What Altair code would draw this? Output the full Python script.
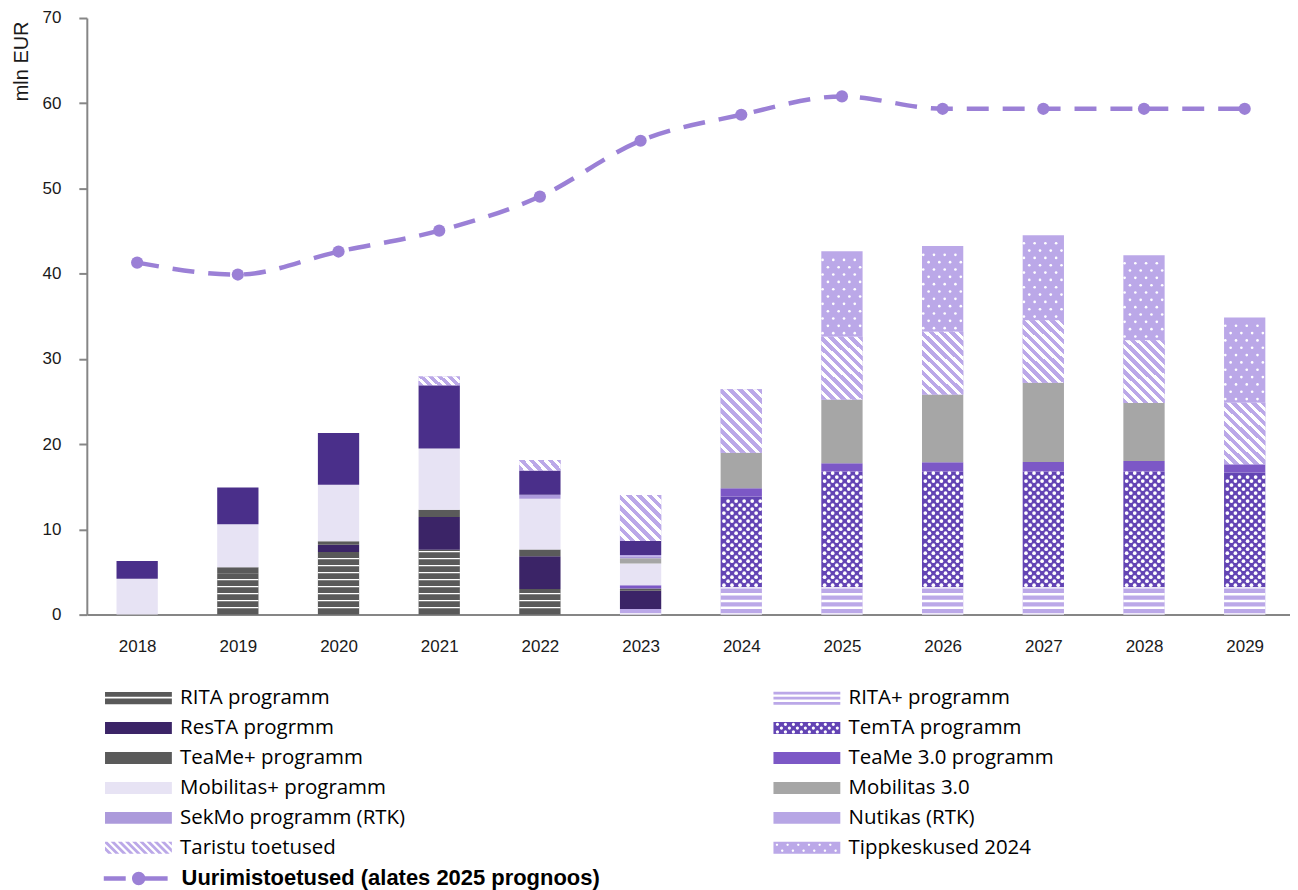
import altair as alt
import pandas as pd

# ---------------- data ----------------
years = [2018, 2019, 2020, 2021, 2022, 2023, 2024, 2025, 2026, 2027, 2028, 2029]

rita           = [0, 4.85, 7.35, 7.6, 3.0, 0, 0, 0, 0, 0, 0, 0]
rita_plus      = [0, 0, 0, 0, 0, 0.65, 3.2, 3.2, 3.2, 3.2, 3.2, 3.2]
resta          = [0, 0, 0.85, 3.85, 3.85, 2.15, 0, 0, 0, 0, 0, 0]
temta          = [0, 0, 0, 0, 0, 0, 10.65, 13.58, 13.58, 13.58, 13.58, 13.47]
teame_plus     = [0, 0.7, 0.4, 0.85, 0.8, 0.25, 0, 0, 0, 0, 0, 0]
teame3         = [0, 0, 0, 0, 0, 0.4, 0.97, 0.98, 1.1, 1.14, 1.25, 0.98]
mobilitas_plus = [4.2, 5.05, 6.65, 7.2, 5.95, 2.55, 0, 0, 0, 0, 0, 0]
mobilitas3     = [0, 0, 0, 0, 0, 0.6, 4.17, 7.49, 7.96, 9.28, 6.79, 0]
sekmo          = [0, 0, 0, 0, 0.45, 0.2, 0, 0, 0, 0, 0, 0]
nutikas        = [0, 0, 0, 0, 0, 0.2, 0, 0, 0, 0, 0, 0]
muu            = [2.1, 4.3, 6.05, 7.4, 2.85, 1.63, 0, 0, 0, 0, 0, 0]
taristu        = [0, 0, 0, 1.05, 1.25, 5.4, 7.46, 7.34, 7.34, 7.34, 7.38, 7.21]
tipp           = [0, 0, 0, 0, 0, 0, 0, 10.03, 10.07, 9.96, 9.95, 10.0]

series_names = [
    "RITA programm", "RITA+ programm", "ResTA progrmm", "TemTA programm",
    "TeaMe+ programm", "TeaMe 3.0 programm", "Mobilitas+ programm", "Mobilitas 3.0",
    "SekMo programm (RTK)", "Nutikas (RTK)", "Muu", "Taristu toetused", "Tippkeskused 2024",
]
series_values = [rita, rita_plus, resta, temta, teame_plus, teame3, mobilitas_plus,
                 mobilitas3, sekmo, nutikas, muu, taristu, tipp]
series_colors = ["#595959", "#BBA8E8", "#3B2467", "#6344B4", "#5A5A5A", "#7C58C6", "#E7E3F4",
                 "#A6A6A6", "#AC9ADB", "#B7A6E5", "#4A2F8A", "#BBA8E8", "#BBA8E8"]

line_label = "Uurimistoetused (alates 2025 prognoos)"
line_values = [41.3, 39.9, 42.6, 45.05, 49.05, 55.6, 58.65, 60.8, 59.35, 59.35, 59.35, 59.35]
line_color = "#9B80D6"

rows = []
for order, (name, vals) in enumerate(zip(series_names, series_values)):
    for yr, v in zip(years, vals):
        rows.append({"year": yr, "series": name, "order": order, "value": v})
df = pd.DataFrame(rows)
line_df = pd.DataFrame({"year": years, "value": line_values, "label": line_label})

# ---------------- styling helpers ----------------
HW = 0.205  # half bar width (in year units)
AXIS_GREY = "#868686"
TXT = "#1a1a1a"

xscale = alt.Scale(domain=[2017.5, 2029.45], nice=False, zero=False)
yscale = alt.Scale(domain=[0, 70], nice=False, zero=True)
xaxis = alt.Axis(values=years, format="d", title=None, grid=False, ticks=False, tickSize=0,
                 domainColor=AXIS_GREY, domainWidth=2, labelFont="Liberation Sans",
                 labelFontSize=17, labelColor=TXT, labelPadding=24, labelFlush=False,
                 labelOverlap=False)
yaxis = alt.Axis(values=list(range(0, 71, 10)), title="mln EUR", grid=False, tickSize=8,
                 tickWidth=2, tickColor=AXIS_GREY, domainColor=AXIS_GREY, domainWidth=2,
                 labelFont="Liberation Sans", labelFontSize=17, labelColor=TXT, labelPadding=18,
                 titleFont="Liberation Sans", titleFontSize=20, titleFontWeight="normal",
                 titleColor=TXT, titleX=-65, titleY=3, titleAlign="right",
                 titleBaseline="middle", titleAngle=270)


def X(f):
    return alt.X(f, type="quantitative", scale=xscale, axis=xaxis)


def Y(f):
    return alt.Y(f, type="quantitative", scale=yscale, axis=yaxis)


def rect(x0, y0, x1, y1):
    return f"M{x0:.3f},{y0:.3f}H{x1:.3f}V{y1:.3f}H{x0:.3f}Z"


def circ(cx, cy, r, hole=True):
    s = 0 if hole else 1
    return (f"M{cx + r:.3f},{cy:.3f}A{r:.3f},{r:.3f} 0 1,{s} {cx - r:.3f},{cy:.3f}"
            f"A{r:.3f},{r:.3f} 0 1,{s} {cx + r:.3f},{cy:.3f}Z")


XL, XR, YT, YB = -1.0, 5.7, -0.6, 0.6


def clip(poly, xb, keep_greater):
    out = []
    n = len(poly)
    for i in range(n):
        P, Q = poly[i], poly[(i + 1) % n]
        inP = P[0] >= xb if keep_greater else P[0] <= xb
        inQ = Q[0] >= xb if keep_greater else Q[0] <= xb
        if inP:
            out.append(P)
        if inP != inQ:
            t = (xb - P[0]) / (Q[0] - P[0])
            out.append((xb, P[1] + t * (Q[1] - P[1])))
    return out


def diag_path():
    parts = []
    a = XL - 1.2 - 0.4
    while a < XR:
        poly = [(a, YT), (a + 0.4, YT), (a + 0.4 + 1.2, YB), (a + 1.2, YB)]
        poly = clip(clip(poly, XL, True), XR, False)
        if len(poly) >= 3:
            parts.append("M" + "L".join(f"{x:.3f},{y:.3f}" for x, y in poly) + "Z")
        a += 0.72
    return "".join(parts)


solid = rect(XL, YT, XR, YB)
p_rita = rect(XL, -0.62, XR, -0.14) + rect(XL, 0.04, XR, 0.62)
p_ritap = rect(XL, -0.65, XR, -0.38) + rect(XL, -0.13, XR, 0.13) + rect(XL, 0.38, XR, 0.65)
p_temta = solid + "".join(
    circ(XL + 0.4 + 0.8 * k + (0.4 if j == 1 else 0), yy, 0.16)
    for j, yy in enumerate([-0.38, 0.0, 0.38]) for k in range(8)
    if XL + 0.4 + 0.8 * k + (0.4 if j == 1 else 0) + 0.16 < XR)
p_tipp = solid + "".join(
    circ(XL + 0.35 + 1.07 * k + (0.53 if j == 1 else 0), yy, 0.12)
    for j, yy in enumerate([-0.3, 0.3]) for k in range(7)
    if XL + 0.35 + 1.07 * k + (0.53 if j == 1 else 0) + 0.12 < XR)
p_tar = diag_path()
p_line = rect(-1.2, -0.22, 1.0, 0.22) + rect(2.3, -0.22, 5.2, 0.22) + circ(2.3, 0.0, 0.67, hole=False)

LX = [18, 688]
LY0 = 671.5
legend_spec = {
    "RITA programm": (0, 0, p_rita),
    "ResTA progrmm": (0, 1, solid),
    "TeaMe+ programm": (0, 2, solid),
    "Mobilitas+ programm": (0, 3, solid),
    "SekMo programm (RTK)": (0, 4, solid),
    "Taristu toetused": (0, 5, p_tar),
    "RITA+ programm": (1, 0, p_ritap),
    "TemTA programm": (1, 1, p_temta),
    "TeaMe 3.0 programm": (1, 2, solid),
    "Mobilitas 3.0": (1, 3, solid),
    "Nutikas (RTK)": (1, 4, solid),
    "Tippkeskused 2024": (1, 5, p_tipp),
}


def make_legend(col, row, path, bold=False, font="Open Sans", size=20.5, dy=0):
    return alt.Legend(orient="none", legendX=LX[col], legendY=LY0 + row * 30 + dy, title=None,
                      symbolType=path, symbolSize=400, symbolStrokeWidth=0, symbolOpacity=1,
                      labelOffset=55, labelFont=font, labelFontSize=size,
                      labelFontWeight="bold" if bold else "normal", labelColor="black",
                      labelLimit=800, padding=0, labelBaseline="middle")


base = (alt.Chart(df)
        .transform_filter("datum.value > 0")
        .transform_stack(stack="value", groupby=["year"], as_=["y0", "y1"],
                         sort=[alt.SortField("order", order="ascending")])
        .transform_calculate(xl=f"datum.year - {HW}", xr=f"datum.year + {HW}"))

layers = []
for name, color in zip(series_names, series_colors):
    if name in legend_spec:
        c, r, p = legend_spec[name]
        leg = make_legend(c, r, p)
    else:
        leg = None
    layers.append(
        base.transform_filter(alt.datum.series == name)
        .mark_bar()
        .encode(x=X("xl"), x2="xr:Q", y=Y("y0"), y2="y1:Q",
                color=alt.Color("series:N", scale=alt.Scale(domain=[name], range=[color]),
                                legend=leg))
    )

# RITA: white horizontal lines
layers.append(
    base.transform_filter(alt.datum.series == "RITA programm")
    .transform_calculate(ln="sequence(datum.y0 + 0.82, datum.y1 - 0.1, 0.82)")
    .transform_flatten(["ln"])
    .transform_calculate(a="datum.ln - 0.075", b="datum.ln + 0.075")
    .mark_bar(color="white")
    .encode(x=X("xl"), x2="xr:Q", y=Y("a"), y2="b:Q")
)
# RITA+: white horizontal bands
layers.append(
    base.transform_filter(alt.datum.series == "RITA+ programm")
    .transform_calculate(ln="sequence(datum.y0, datum.y1 + 0.01, 0.8)")
    .transform_flatten(["ln"])
    .transform_calculate(a="max(datum.y0, datum.ln - 0.15)", b="min(datum.y1, datum.ln + 0.15)")
    .mark_bar(color="white")
    .encode(x=X("xl"), x2="xr:Q", y=Y("a"), y2="b:Q")
)
# TemTA: dense white dots
layers.append(
    base.transform_filter(alt.datum.series == "TemTA programm")
    .transform_calculate(r="sequence(datum.y0 + 0.25, datum.y1 - 0.15, 0.47)")
    .transform_flatten(["r"])
    .transform_calculate(c="sequence(0, 5)")
    .transform_flatten(["c"])
    .transform_calculate(
        xd=f"datum.year - {HW} + {2 * HW}*(0.08 + 0.1*(round((datum.r - datum.y0 - 0.25)/0.47) % 2) + 0.195*datum.c)")
    .mark_circle(color="white", opacity=1, size=14)
    .encode(x=X("xd"), y=Y("r"))
)
# Tippkeskused: sparse white dots
layers.append(
    base.transform_filter(alt.datum.series == "Tippkeskused 2024")
    .transform_calculate(r="sequence(datum.y0 + 0.43, datum.y1 - 0.2, 0.86)")
    .transform_flatten(["r"])
    .transform_calculate(c="sequence(0, 4)")
    .transform_flatten(["c"])
    .transform_calculate(
        xd=f"datum.year - {HW} + {2 * HW}*(0.03 + 0.13*(round((datum.r - datum.y0 - 0.43)/0.86) % 2) + 0.26*datum.c)")
    .mark_circle(color="white", opacity=1, size=7)
    .encode(x=X("xd"), y=Y("r"))
)


# Taristu: diagonal stripes via gradients
def stripe_gradient(x2, y2, n, color="#BBA8E8", white=0.45):
    stops = []
    for k in range(n):
        a = k / n
        m = (k + 1 - white) / n
        b = (k + 1) / n
        stops += [{"offset": a, "color": color}, {"offset": m, "color": color},
                  {"offset": m, "color": "white"}, {"offset": b, "color": "white"}]
    return {"gradient": "linear", "x1": 0, "y1": 1, "x2": x2, "y2": y2, "stops": stops}


for yrs, grad in [([2024, 2025, 2026, 2027, 2028, 2029], stripe_gradient(1, -0.55, 14)),
                  ([2023], stripe_gradient(1, -0.12, 9)),
                  ([2021, 2022], stripe_gradient(1.3, 0.69, 6))]:
    layers.append(
        base.transform_filter(alt.datum.series == "Taristu toetused")
        .transform_filter(alt.FieldOneOfPredicate(field="year", oneOf=yrs))
        .mark_bar(fill=grad)
        .encode(x=X("xl"), x2="xr:Q", y=Y("y0"), y2="y1:Q")
    )

# line + points
layers.append(
    alt.Chart(line_df).mark_line(color=line_color, strokeWidth=4.5, strokeDash=[22, 14],
                                 interpolate="monotone")
    .encode(x=X("year"), y=Y("value"))
)
layers.append(
    alt.Chart(line_df).mark_circle(size=150, opacity=1)
    .encode(x=X("year"), y=Y("value"),
            color=alt.Color("label:N", scale=alt.Scale(domain=[line_label], range=[line_color]),
                            legend=make_legend(0, 6, p_line, bold=True, font="Liberation Sans",
                                               size=22, dy=0)))
)

chart = (alt.layer(*layers)
         .resolve_scale(color="independent")
         .properties(width=1206, height=598,
                     padding={"left": 4, "top": 0, "right": 0, "bottom": 0},
                     background="white")
         .configure_view(stroke=None))

chart.save("out.html", embed_options={"renderer": "svg", "actions": False})
